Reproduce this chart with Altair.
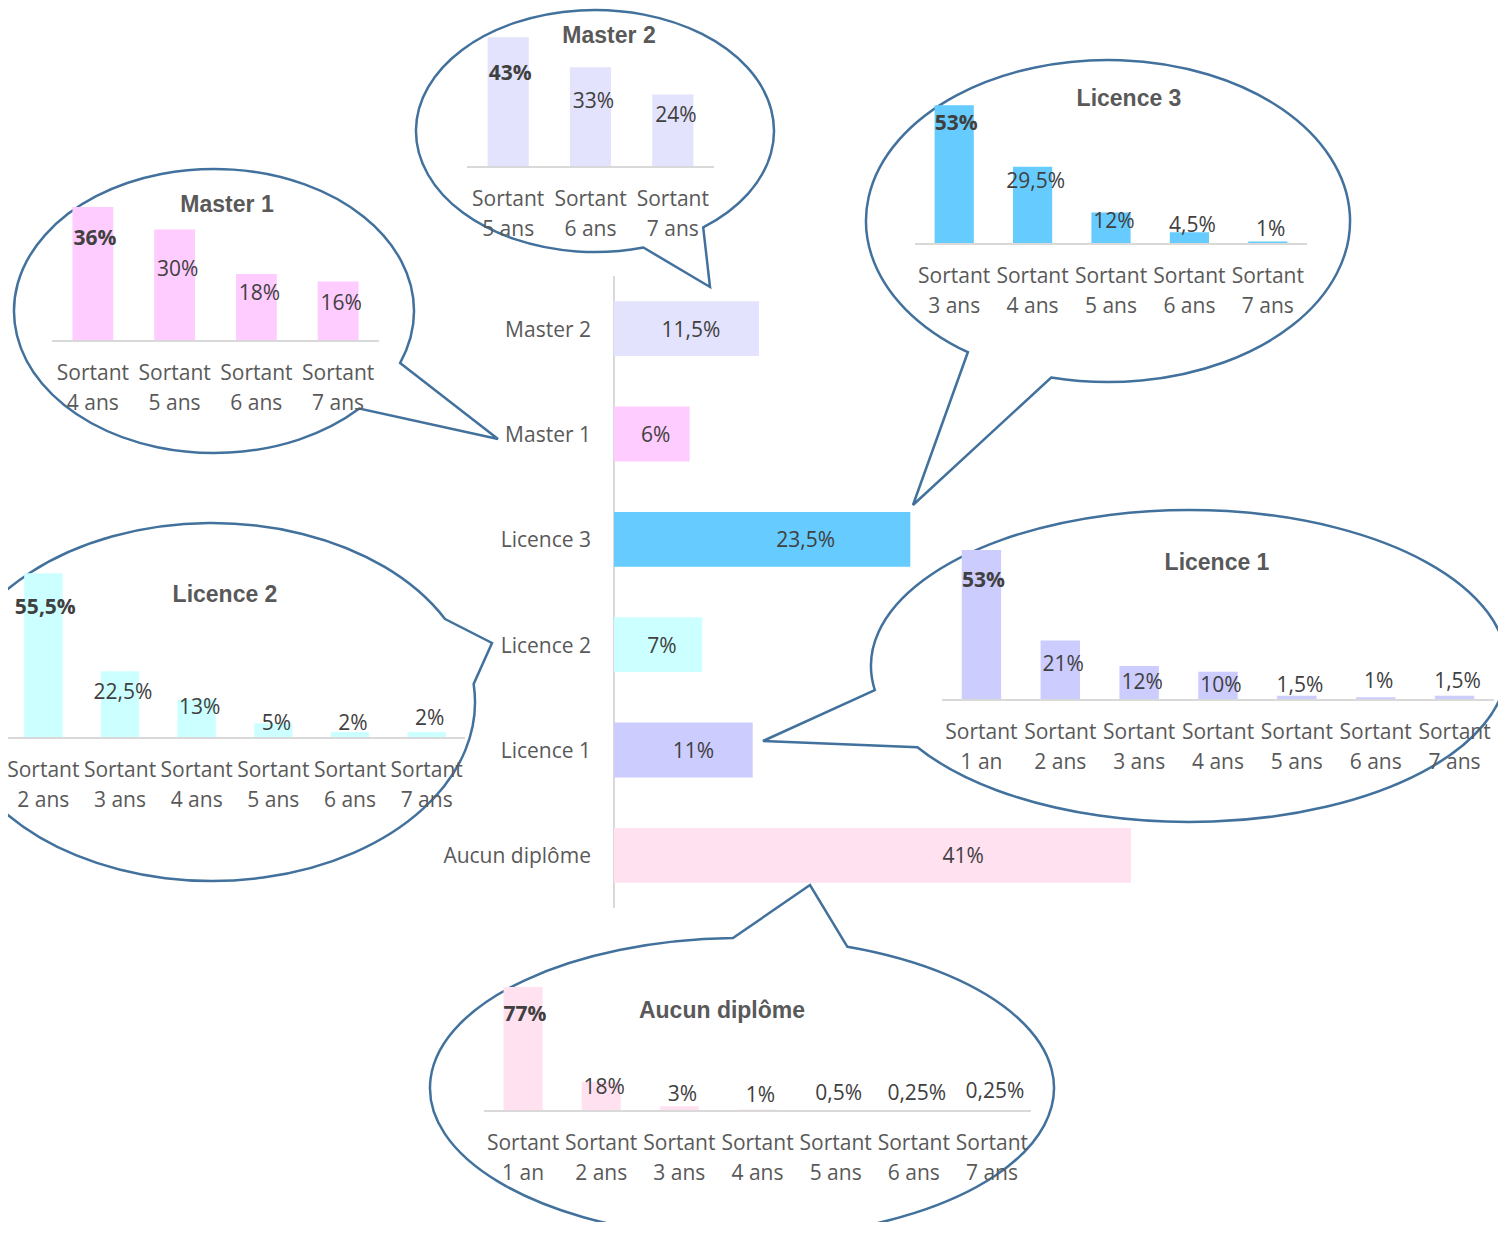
import math
import altair as alt
import pandas as pd

# ---------------- data ----------------
MAIN_CATS = ["Master 2", "Master 1", "Licence 3", "Licence 2", "Licence 1", "Aucun diplôme"]
MAIN_VALUES = [11.5, 6, 23.5, 7, 11, 41]
MAIN_LABEL_AT = [6.1, 3.3, 15.2, 3.8, 6.3, 27.7]
COLORS = ["#E3E3FD", "#FFCCFF", "#66CCFF", "#CCFFFF", "#CCCCFF", "#FFE1F0"]

M2_YEARS = [5, 6, 7]
M2_VALUES = [43, 33, 24]
M2_LABEL_AT = [31.5, 22.2, 17.5]

M1_YEARS = [4, 5, 6, 7]
M1_VALUES = [36, 30, 18, 16]
M1_LABEL_AT = [28, 19.6, 13.2, 10.5]

L3_YEARS = [3, 4, 5, 6, 7]
L3_VALUES = [53, 29.5, 12, 4.5, 1]
L3_LABEL_AT = [46.6, 24.4, 9.2, 7.6, 6.1]

L2_YEARS = [2, 3, 4, 5, 6, 7]
L2_VALUES = [55.5, 22.5, 13, 5, 2, 2]
L2_LABEL_AT = [44.4, 15.8, 10.8, 5.4, 5.4, 7.1]

L1_YEARS = [1, 2, 3, 4, 5, 6, 7]
L1_VALUES = [53, 21, 12, 10, 1.5, 1, 1.5]
L1_LABEL_AT = [42.8, 13.1, 6.7, 5.7, 5.7, 7.1, 7.1]

AU_YEARS = [1, 2, 3, 4, 5, 6, 7]
AU_VALUES = [77, 18, 3, 1, 0.5, 0.25, 0.25]
AU_LABEL_AT = [60.9, 15.5, 11.2, 10.6, 11.8, 11.8, 13.0]

# ---------------- layout (page pixels) ----------------
OFF = 8  # page margin
W, H = 1490, 1214
STROKE = "#41719C"
TXT = "#404040"
AXT = "#595959"
GRID = "#D9D9D9"
FONT = "Open Sans"
TFONT = "Liberation Sans"

MAIN_X0, MAIN_PX = 614, 12.61
MAIN_Y = (276, 908)

# title, x-range, baseline, px per %, bubble (cx, cy, rx, ry, A, tip, B)
LAYOUT = {
    "Master 2": dict(title=(609, 35), xr=(467, 714), base=167, k=3.02,
                     bub=(595, 131, 179, 121, (644, 249), (710, 287), (705, 229))),
    "Master 1": dict(title=(227, 204), xr=(52, 379), base=341, k=3.72,
                     bub=(214, 311, 200, 142, (400, 363), (498, 439), (360, 409))),
    "Licence 3": dict(title=(1129, 98), xr=(915, 1307), base=244, k=2.62,
                      bub=(1108, 221, 242, 161, (967, 353), (913, 505), (1051, 378))),
    "Licence 2": dict(title=(225, 594), xr=(5, 465), base=738, k=2.97,
                      bub=(212, 702, 263, 179, (445, 619), (492, 643), (473, 684))),
    "Licence 1": dict(title=(1217, 562), xr=(942, 1494), base=700, k=2.83,
                      bub=(1189, 666, 318, 156, (875, 690), (763, 741), (918, 747))),
    "Aucun diplôme": dict(title=(722, 1010), xr=(484, 1031), base=1111, k=1.61,
                          bub=(742, 1088, 312, 150, (733, 938), (810, 885), (848, 946))),
}


def fr(v):
    return f"{v:g}".replace(".", ",") + "%"


def bubble_path(cx, cy, rx, ry, a, tip, b):
    def proj(p):
        t = math.atan2((p[1] - cy) / ry, (p[0] - cx) / rx)
        return rx * math.cos(t), ry * math.sin(t), t
    ax, ay, ta = proj(a)
    bx, by, tb = proj(b)
    tx, ty = tip[0] - cx, tip[1] - cy
    d = (ta - tb) % (2 * math.pi)
    sweep = 1 if d > math.pi else 0
    return (f"M{ax:.2f},{ay:.2f}L{tx:.2f},{ty:.2f}L{bx:.2f},{by:.2f}"
            f"A{rx},{ry} 0 1 {sweep} {ax:.2f},{ay:.2f}Z")


layers = []
one = pd.DataFrame({"z": [0]})

# ---------------- bubbles ----------------
bub_rows = []
for name, lay in LAYOUT.items():
    cx, cy, rx, ry, a, tip, b = lay["bub"]
    bub_rows.append({"cx": cx - OFF, "cy": cy - OFF,
                     "path": bubble_path(cx, cy, rx, ry, a, tip, b)})
layers.append(alt.Chart(pd.DataFrame(bub_rows)).mark_point(
    size=4, fill="white", fillOpacity=1, stroke=STROKE, strokeWidth=2.5, opacity=1
).encode(
    x=alt.X("cx:Q", scale=None, axis=None),
    y=alt.Y("cy:Q", scale=None, axis=None),
    shape=alt.Shape("path:N", scale=None, legend=None),
))

# ---------------- main chart ----------------
main_df = pd.DataFrame({"cat": MAIN_CATS, "v": MAIN_VALUES, "at": MAIN_LABEL_AT,
                        "lab": [fr(v) for v in MAIN_VALUES]})


def mxs():
    return alt.Scale(domain=[0, 50], range=[MAIN_X0 - OFF, MAIN_X0 - OFF + 50 * MAIN_PX],
                     nice=False, zero=False)


def my():
    return alt.Y("cat:N", sort=MAIN_CATS, axis=None,
                 scale=alt.Scale(domain=MAIN_CATS, range=[MAIN_Y[0] - OFF, MAIN_Y[1] - OFF],
                                 paddingInner=0.48, paddingOuter=0.24))


layers.append(alt.Chart(one).mark_rule(color=GRID, strokeWidth=2).encode(
    x=alt.XDatum(0, scale=mxs(), axis=None),
    y=alt.value(MAIN_Y[0] - OFF), y2=alt.value(MAIN_Y[1] - OFF)))
layers.append(alt.Chart(main_df).mark_bar().encode(
    x=alt.X("v:Q", scale=mxs(), axis=None), y=my(),
    color=alt.Color("cat:N", scale=alt.Scale(domain=MAIN_CATS, range=COLORS), legend=None)))
layers.append(alt.Chart(main_df).mark_text(font=FONT, fontSize=21, color=TXT, baseline="middle",
                                           dy=2).encode(
    x=alt.X("at:Q", scale=mxs(), axis=None), y=my(), text="lab:N"))
layers.append(alt.Chart(main_df).mark_text(font=FONT, fontSize=21, color=AXT, align="right",
                                           baseline="middle", dx=-23, dy=2).encode(
    x=alt.XDatum(0, scale=mxs(), axis=None), y=my(), text="cat:N"))


# ---------------- mini charts ----------------
def mini(name, years, values, label_at, color):
    lay = LAYOUT[name]
    cats = [f"Sortant\n{y} an" if y == 1 else f"Sortant\n{y} ans" for y in years]
    df = pd.DataFrame({"cat": cats, "v": values, "at": label_at,
                       "lab": [fr(v) for v in values],
                       "first": [i == 0 for i in range(len(values))]})
    x0, x1 = lay["xr"]
    base, k = lay["base"], lay["k"]

    def xs():
        return alt.X("cat:N", sort=cats, axis=None,
                     scale=alt.Scale(domain=cats, range=[x0 - OFF, x1 - OFF],
                                     paddingInner=0.5, paddingOuter=0.25))

    def ysc():
        return alt.Scale(domain=[0, 100], range=[base - OFF, base - OFF - 100 * k], nice=False)

    out = []
    out.append(alt.Chart(df).mark_bar(color=color).encode(
        x=xs(), y=alt.Y("v:Q", scale=ysc(), axis=None)))
    out.append(alt.Chart(one).mark_rule(color=GRID, strokeWidth=2).encode(
        x=alt.value(x0 - OFF), x2=alt.value(x1 - OFF), y=alt.YDatum(0, scale=ysc(), axis=None)))
    out.append(alt.Chart(df).transform_filter("datum.first").mark_text(
        font=FONT, fontSize=21, fontWeight="bold", color=TXT, baseline="middle", dx=2, dy=2).encode(
        x=xs(), y=alt.Y("at:Q", scale=ysc(), axis=None), text="lab:N"))
    out.append(alt.Chart(df).transform_filter("!datum.first").mark_text(
        font=FONT, fontSize=21, color=TXT, baseline="middle", dx=3, dy=2).encode(
        x=xs(), y=alt.Y("at:Q", scale=ysc(), axis=None), text="lab:N"))
    out.append(alt.Chart(df).mark_text(font=FONT, fontSize=21, color=AXT, baseline="middle",
                                       lineBreak="\n", lineHeight=30, dy=33).encode(
        x=xs(), y=alt.YDatum(0, scale=ysc(), axis=None), text="cat:N"))
    tx, ty = lay["title"]
    out.append(alt.Chart(one).mark_text(text=name, font=TFONT, fontWeight="bold", fontSize=23,
                                        color=AXT, baseline="middle", dy=1).encode(
        x=alt.value(tx - OFF), y=alt.value(ty - OFF)))
    return out


layers += mini("Master 2", M2_YEARS, M2_VALUES, M2_LABEL_AT, COLORS[0])
layers += mini("Master 1", M1_YEARS, M1_VALUES, M1_LABEL_AT, COLORS[1])
layers += mini("Licence 3", L3_YEARS, L3_VALUES, L3_LABEL_AT, COLORS[2])
layers += mini("Licence 2", L2_YEARS, L2_VALUES, L2_LABEL_AT, COLORS[3])
layers += mini("Licence 1", L1_YEARS, L1_VALUES, L1_LABEL_AT, COLORS[4])
layers += mini("Aucun diplôme", AU_YEARS, AU_VALUES, AU_LABEL_AT, COLORS[5])

chart = alt.layer(*layers).resolve_scale(
    x="independent", y="independent"
).properties(
    width=W, height=H, padding=0, autosize="none", background="white"
).configure_view(stroke=None)

chart.save("out.html", embed_options={"renderer": "svg", "actions": False})
